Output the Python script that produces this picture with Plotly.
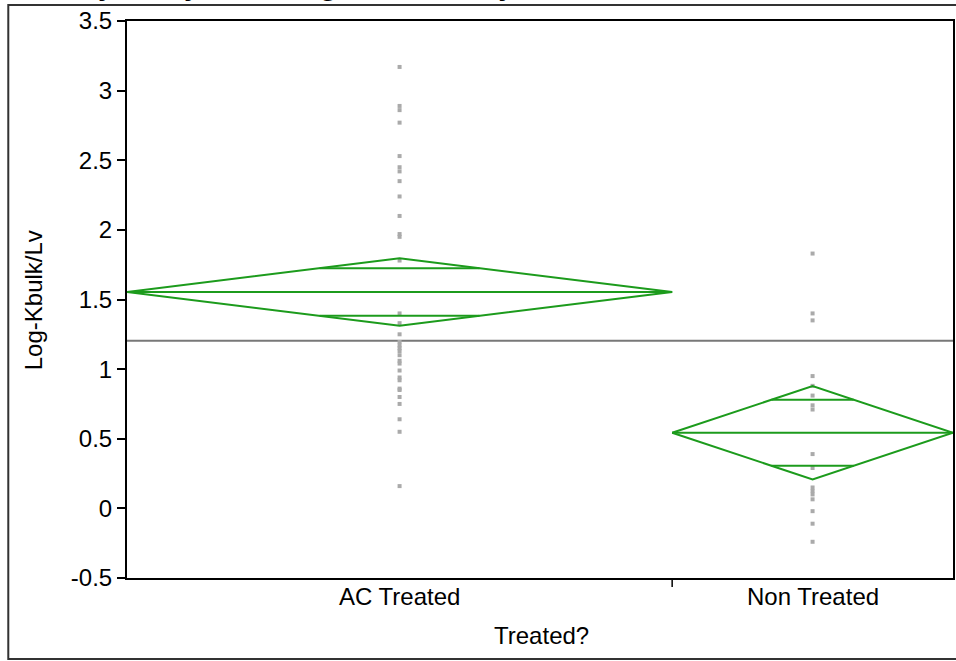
import plotly.graph_objects as go
import numpy as np

# ---- data ----
groups = ["AC Treated", "Non Treated"]
ac_values = [3.17, 2.89, 2.86, 2.77, 2.53, 2.45, 2.42, 2.35, 2.24, 2.10, 1.97, 1.95, 1.78,
             1.40, 1.33, 1.25, 1.195, 1.17, 1.15, 1.13, 1.10, 1.06, 1.04, 0.99, 0.94, 0.92,
             0.86, 0.85, 0.80, 0.75, 0.64, 0.55, 0.16]
nt_values = [1.83, 1.40, 1.35, 0.95, 0.88, 0.81, 0.74, 0.71, 0.39, 0.29, 0.15, 0.125,
             0.10, 0.065, -0.02, -0.11, -0.24]
group_means = [1.554, 0.543]
group_ci = [0.242, 0.335]       # half-width of 95% CI (diamond height)
grand_mean = 1.204
y_ticks = [-0.5, 0, 0.5, 1, 1.5, 2, 2.5, 3, 3.5]
y_tick_labels = ["-0.5", "0", "0.5", "1", "1.5", "2", "2.5", "3", "3.5"]
title_text = "Oneway Analysis of Log-Kbulk/Lv By Treated?"
x_title = "Treated?"
y_title = "Log-Kbulk/Lv"

FONT = "Arial, Liberation Sans, sans-serif"
FS = 24
GREEN = "rgb(28,155,28)"

counts = [len(ac_values), len(nt_values)]
edges = np.concatenate([[0], np.cumsum(counts)])
centers = [(edges[i] + edges[i + 1]) / 2 for i in range(2)]
total = edges[-1]

fig = go.Figure()

# grand mean line
fig.add_trace(go.Scatter(x=[0, total], y=[grand_mean, grand_mean], mode="lines",
                         line=dict(color="rgb(120,120,120)", width=2), hoverinfo="skip"))

# points
for vals, c in zip([ac_values, nt_values], centers):
    fig.add_trace(go.Scatter(x=[c] * len(vals), y=vals, mode="markers",
                             marker=dict(symbol="square", size=4, color="rgb(170,170,170)",
                                         line=dict(width=0))))

# means diamonds
k = 1 / np.sqrt(2)
for i in range(2):
    L, R, C = edges[i], edges[i + 1], centers[i]
    m, ci = group_means[i], group_ci[i]
    fig.add_trace(go.Scatter(x=[L, C, R, C, L], y=[m, m + ci, m, m - ci, m], mode="lines",
                             line=dict(color=GREEN, width=2), hoverinfo="skip"))
    fig.add_trace(go.Scatter(x=[L, R], y=[m, m], mode="lines",
                             line=dict(color=GREEN, width=2), hoverinfo="skip"))
    for s in (1, -1):
        fig.add_trace(go.Scatter(x=[L + k * (C - L), R - k * (R - C)],
                                 y=[m + s * ci * k] * 2, mode="lines",
                                 line=dict(color=GREEN, width=2), hoverinfo="skip"))

W, H = 956, 661
ml, mr, mt, mb = 127, 1, 21, 83
pw, ph = W - ml - mr, H - mt - mb

def px_x(p):
    return (p - ml) / pw

def px_y(p):
    return (H - mb - p) / ph

# divider tick between groups
fig.add_shape(type="line", xref="x", yref="paper", x0=edges[1], x1=edges[1],
              y0=0, y1=-9 / ph, line=dict(color="black", width=1.5))

# outer frame
fig.add_shape(type="rect", xref="paper", yref="paper",
              x0=px_x(8), x1=px_x(975), y0=px_y(659), y1=px_y(5),
              line=dict(color="rgb(50,50,50)", width=2), layer="below")

# title (cropped at top, as in the reference)
fig.add_annotation(text="<b>" + title_text + "</b>", xref="paper", yref="paper",
                   x=px_x(1), y=px_y(3.5), xanchor="left", yanchor="bottom",
                   showarrow=False, font=dict(family=FONT, size=29, color="black"))

# category labels
for name, c in zip(groups, centers):
    fig.add_annotation(text=name, xref="x", yref="paper", x=c, y=px_y(596),
                       xanchor="center", yanchor="middle", showarrow=False,
                       font=dict(family=FONT, size=FS, color="black"))

# axis titles
fig.add_annotation(text=x_title, xref="paper", yref="paper", x=px_x(543), y=px_y(635),
                   xanchor="center", yanchor="middle", showarrow=False,
                   font=dict(family=FONT, size=FS, color="black"))
fig.add_annotation(text=y_title, xref="paper", yref="paper", x=px_x(33), y=px_y(300),
                   xanchor="center", yanchor="middle", textangle=-90, showarrow=False,
                   font=dict(family=FONT, size=FS, color="black"))

fig.update_layout(
    width=W, height=H,
    margin=dict(l=ml, r=mr, t=mt, b=mb),
    paper_bgcolor="white", plot_bgcolor="white",
    showlegend=False,
    font=dict(family=FONT, size=FS, color="black"),
    xaxis=dict(range=[0, total], showticklabels=False, ticks="",
               showgrid=False, zeroline=False, showline=True, linecolor="black",
               linewidth=2, mirror=True),
    yaxis=dict(range=[-0.5, 3.5], tickvals=y_ticks, ticktext=y_tick_labels,
               ticks="outside", ticklen=8, tickwidth=1.5, tickcolor="black",
               showgrid=False, zeroline=False, showline=True, linecolor="black",
               linewidth=2, mirror=True, tickfont=dict(size=FS)),
)

fig.write_html("out.html",
               config={"displayModeBar": False},
               post_script="document.body.style.margin='0';"
                           "document.body.style.overflow='hidden';")
